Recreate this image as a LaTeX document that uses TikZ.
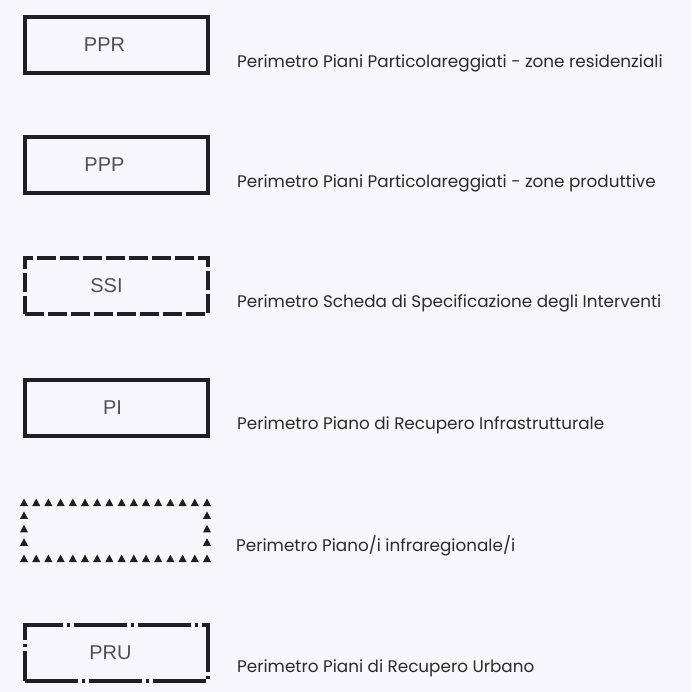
\documentclass[tikz,border=0pt]{standalone}
\usepackage{fontspec}
\setmainfont{Poppins}
\newfontfamily\boxfont{Liberation Sans}
\usepackage{xcolor}
\usetikzlibrary{positioning, calc}

\definecolor{paper}{HTML}{F7F7FB}
\definecolor{ink}{HTML}{1E1E24}
\definecolor{boxink}{HTML}{50505A}
\definecolor{labelink}{HTML}{2A2A30}

\begin{document}
\begin{tikzpicture}[
		x=1pt, y=-1pt,
		% Define styles
		legend box/.style={
			rectangle,
			draw=ink,
			line width=3.2pt,
			minimum width=183pt,
			minimum height=56pt,
			inner sep=0pt,
			outer sep=0pt
		},
		dashed box/.style={
			legend box,
			dash pattern=on 19pt off 4pt
		},
		dashdot box/.style={
			legend box,
			dash pattern=on 53pt off 4pt on 3pt off 4pt
		},
		empty box/.style={
			legend box,
			draw=none
		},
		box text/.style={
			font=\boxfont\fontsize{20}{23}\selectfont,
			text=boxink,
			inner sep=0pt
		},
		legend text/.style={
			font=\fontsize{16.8}{19}\selectfont,
			text=labelink,
			anchor=west,
			inner sep=0pt
		},
		% Define triangle mark
		tri/.style={fill=ink}
		]
		
		% ----- Background -----
		\fill[paper] (0,0) rectangle (691,692);
		\useasboundingbox (0,0) rectangle (691,692);
		
		% ----- Legend Boxes -----
		\node[legend box] (ppr) at (116.5, 45) {};
		\node[legend box] (ppp) at (116.5, 165) {};
		\node[dashed box] (ssi) at (116.5, 286) {};
		\node[legend box] (pi) at (116.5, 408) {};
		\node[empty box] (pii) at (115.5, 530.5) {};
		\node[dashdot box] (pru) at (116.5, 653) {};
		
		% ----- Box Codes -----
		\node[box text] (ppr-code) at ([xshift=-12pt]ppr.center) {PPR};
		\node[box text] (ppp-code) at ([xshift=-12pt]ppp.center) {PPP};
		\node[box text] (ssi-code) at ([xshift=-10pt]ssi.center) {SSI};
		\node[box text] (pi-code) at ([xshift=-4pt]pi.center) {PI};
		\node[box text] (pru-code) at ([xshift=-6pt]pru.center) {PRU};
		
		% ----- Triangle Perimeter -----
		\foreach \i in {0,...,15} {
			\fill[tri] ($(pii.north west)!\i/15!(pii.north east)+(-4,3.5)$) -- ++(8,0) -- ++(-4,-7.5) -- cycle;
			\fill[tri] ($(pii.south west)!\i/15!(pii.south east)+(-4,3.5)$) -- ++(8,0) -- ++(-4,-7.5) -- cycle;
		}
		\foreach \j in {0.23,0.47,0.71} {
			\fill[tri] ($(pii.north west)!\j!(pii.south west)+(-4,3.5)$) -- ++(8,0) -- ++(-4,-7.5) -- cycle;
			\fill[tri] ($(pii.north east)!\j!(pii.south east)+(-4,3.5)$) -- ++(8,0) -- ++(-4,-7.5) -- cycle;
		}
		
		% ----- Legend Descriptions -----
		\node[legend text] (ppr-text) at ([xshift=29pt, yshift=-18pt]ppr.east) {Perimetro Piani Particolareggiati - zone residenziali};
		\node[legend text] (ppp-text) at ([xshift=29pt, yshift=-18pt]ppp.east) {Perimetro Piani Particolareggiati - zone produttive};
		\node[legend text] (ssi-text) at ([xshift=29pt, yshift=-17pt]ssi.east) {Perimetro Scheda di Specificazione degli Interventi};
		\node[legend text] (pi-text) at ([xshift=29pt, yshift=-17pt]pi.east) {Perimetro Piano di Recupero Infrastrutturale};
		\node[legend text] (pii-text) at ([xshift=29pt, yshift=-15pt]pii.east) {Perimetro Piano/i infraregionale/i};
		\node[legend text] (pru-text) at ([xshift=29pt, yshift=-15pt]pru.east) {Perimetro Piani di Recupero Urbano};
		
	\end{tikzpicture}
\end{document}
